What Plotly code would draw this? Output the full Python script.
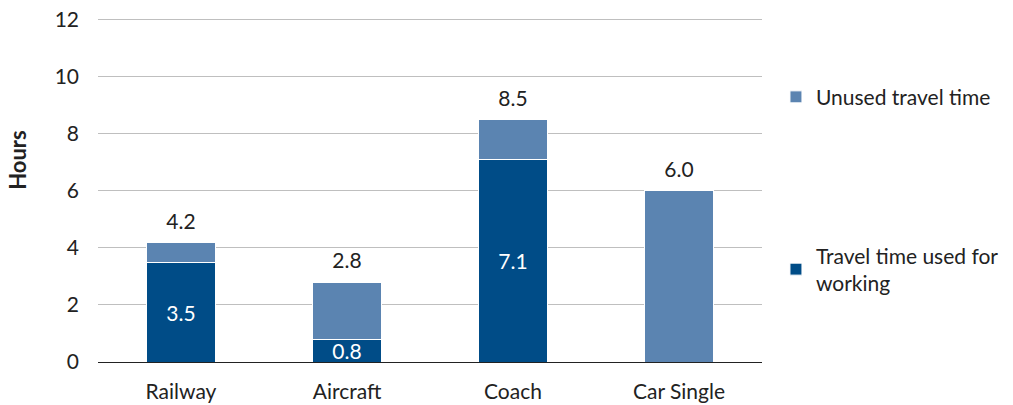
import plotly.graph_objects as go

categories = ["Railway", "Aircraft", "Coach", "Car Single"]
working = [3.5, 0.8, 7.1, 0.0]
unused = [0.7, 2.0, 1.4, 6.0]
totals = [4.2, 2.8, 8.5, 6.0]

dark = "#004C87"
light = "#5B84B1"
font_family = "Lato, Open Sans, sans-serif"
fs = 21

working_text = [f"{v:.1f}" if v > 0 else "" for v in working]

fig = go.Figure()
fig.add_trace(go.Bar(
    x=categories, y=working, name="Travel time used for<br>working",
    marker=dict(color=dark, line=dict(color="white", width=1)),
    text=working_text, textposition="inside", insidetextanchor="middle",
    textfont=dict(color="white", size=fs, family=font_family),
    legend="legend2", hoverinfo="skip",
))
fig.add_trace(go.Bar(
    x=categories, y=unused, name="Unused travel time",
    marker=dict(color=light, line=dict(color="white", width=1)),
    legend="legend", hoverinfo="skip",
))
fig.add_trace(go.Scatter(
    x=categories, y=totals, mode="markers+text",
    marker=dict(size=12, opacity=0),
    text=[f"{v:.1f}" for v in totals], textposition="top center",
    textfont=dict(color="#222222", size=fs, family=font_family),
    showlegend=False, hoverinfo="skip",
))

fig.add_annotation(
    text="<b>Hours</b>", textangle=-90, showarrow=False,
    xref="paper", yref="paper", x=-0.121, y=0.585,
    xanchor="center", yanchor="middle",
    font=dict(size=22, family=font_family, color="#222222"),
)

fig.update_layout(
    barmode="stack", bargap=0.59,
    width=1013, height=405,
    margin=dict(l=98, r=251, t=17, b=43),
    plot_bgcolor="white", paper_bgcolor="white",
    font=dict(family=font_family, size=fs, color="#222222"),
    uniformtext=dict(minsize=fs, mode="show"),
    showlegend=True,
    legend=dict(xref="container", yref="container", x=0.766, y=0.760,
                xanchor="left", yanchor="middle",
                font=dict(size=fs), itemwidth=30, bgcolor="rgba(0,0,0,0)"),
    legend2=dict(xref="container", yref="container", x=0.766, y=0.335,
                 xanchor="left", yanchor="middle",
                 font=dict(size=fs), itemwidth=30, bgcolor="rgba(0,0,0,0)"),
    xaxis=dict(showgrid=False, showline=True, linecolor="#222222", linewidth=1,
               ticks="", tickfont=dict(size=fs), ticklabelstandoff=11,
               automargin=False),
    yaxis=dict(range=[0, 12.1], tickvals=[0, 2, 4, 6, 8, 10, 12],
               showgrid=True, gridcolor="#BFBFBF",
               gridwidth=1, zeroline=False, ticks="", ticklabelstandoff=18,
               tickfont=dict(size=fs), automargin=False),
)

fig.write_html("out.html", config={"displayModeBar": False},
               post_script="document.body.style.margin='0';")
